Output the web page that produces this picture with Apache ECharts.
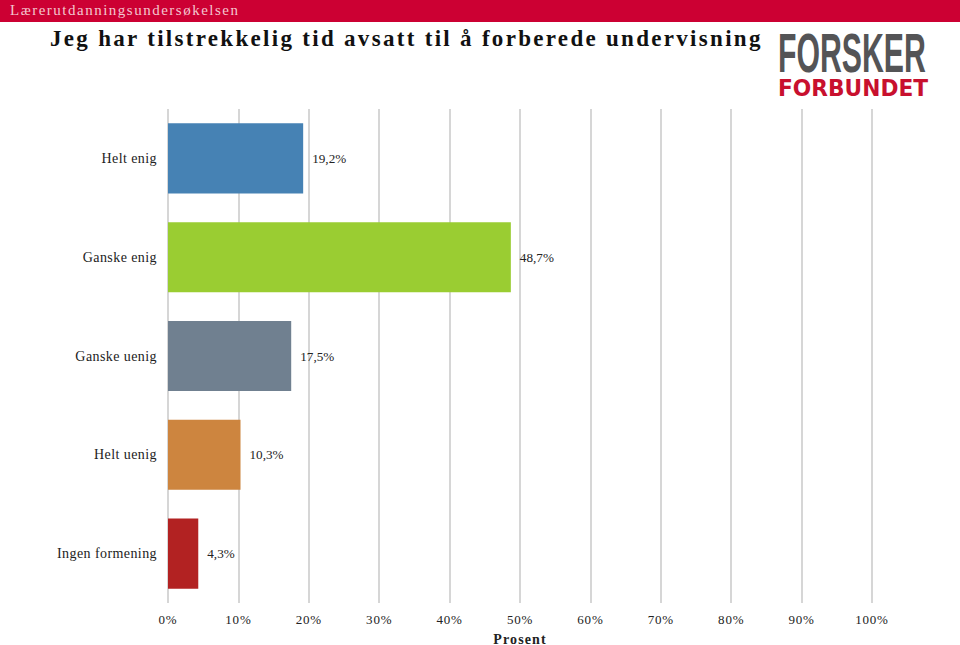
<!DOCTYPE html>
<html><head><meta charset="utf-8">
<script src="https://cdn.jsdelivr.net/npm/echarts@6/dist/echarts.min.js"></script>
<style>
html,body{margin:0;padding:0;background:#fff;}
#chart{width:960px;height:645px;}
#chart text{letter-spacing:0;}
#chart text[style*="23px"]{letter-spacing:0.1em;}
#chart text[style*="15px"]{letter-spacing:0.1em;}
#chart text[style*="14px"]{letter-spacing:0.03em;}
#chart text[style*="13px"]{letter-spacing:0.06em;}
#chart text[style*="bold"][style*="14px"]{letter-spacing:0.08em;}
</style></head>
<body><div id="chart"></div>
<script>
const categories = ['Helt enig','Ganske enig','Ganske uenig','Helt uenig','Ingen formening'];
const values = [19.2, 48.7, 17.5, 10.3, 4.3];
const barColors = ['#4682b4','#9acd32','#708090','#cd853f','#b22222'];
const xTicks = {min:0, max:100, interval:10};
const headerText = 'Lærerutdanningsundersøkelsen';
const titleText = 'Jeg har tilstrekkelig tid avsatt til å forberede undervisning';
const axisName = 'Prosent';

const serif = '"Liberation Serif","DejaVu Serif",serif';
const chart = echarts.init(document.getElementById('chart'), null, {renderer:'svg'});
chart.setOption({
  animation:false,
  backgroundColor:'#fff',
  grid:{left:168, right:88, top:109, bottom:42, containLabel:false, outerBoundsMode:'none'},
  xAxis:{type:'value', min:xTicks.min, max:xTicks.max, interval:xTicks.interval,
    axisLine:{show:false}, axisTick:{show:false},
    splitLine:{show:true, lineStyle:{color:'#d6d6d6', width:2}},
    axisLabel:{formatter:'{value}%', color:'#222', fontFamily:serif, fontSize:13, margin:10},
    name:axisName, nameLocation:'middle', nameGap:29,
    nameTextStyle:{fontFamily:serif, fontWeight:'bold', fontSize:14, color:'#222'}},
  yAxis:{type:'category', data:categories, inverse:true,
    axisLine:{show:false}, axisTick:{show:false}, splitLine:{show:false},
    axisLabel:{color:'#222', fontFamily:serif, fontSize:14, margin:11}},
  series:[{type:'bar', barCategoryGap:'29%',
    data:values.map((v,i)=>({value:v, itemStyle:{color:barColors[i]}})),
    label:{show:true, position:'right', distance:9, color:'#222', fontFamily:serif, fontSize:13.2,
      formatter:p=>String(p.value).replace('.',',')+'%'}}],
  graphic:[
    {type:'rect', left:0, top:0, shape:{width:960, height:22}, style:{fill:'#cc0033'}, silent:true},
    {type:'text', left:10, top:2, style:{text:headerText, fill:'#f3c6cf', font:'15px '+serif}},
    {type:'text', left:50, top:27, style:{text:titleText, fill:'#111', font:'bold 23px '+serif}},
    {type:'text', left:778, top:25, scaleX:0.54, style:{text:'FORSKER', fill:'#545456', font:'bold 56px "Liberation Sans","DejaVu Sans",sans-serif'}},
    {type:'text', left:778, top:75.6, scaleX:0.925, style:{text:'FORBUNDET', fill:'#c8102e', font:'bold 23.5px "DejaVu Sans","Liberation Sans",sans-serif'}}
  ]
});
</script></body></html>
